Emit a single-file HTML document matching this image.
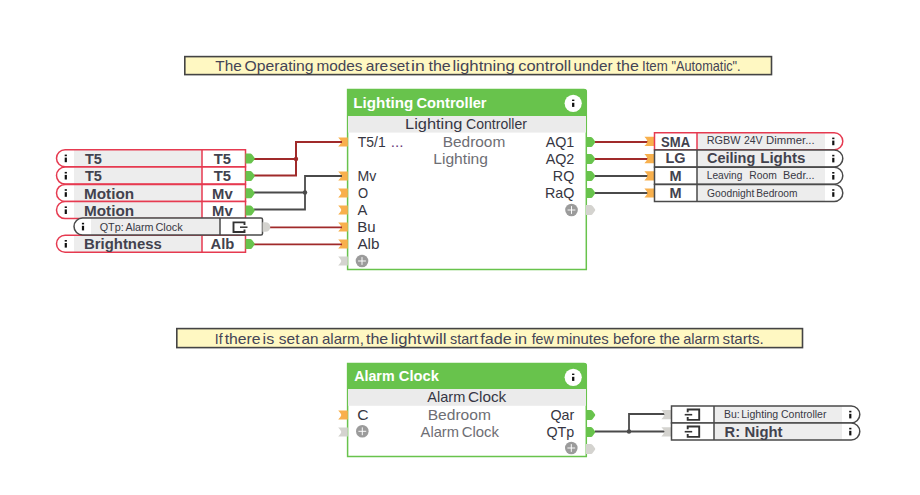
<!DOCTYPE html>
<html><head><meta charset="utf-8"><style>html,body{margin:0;padding:0;background:#fff;width:920px;height:495px;overflow:hidden}</style></head><body>
<svg width="920" height="495" viewBox="0 0 920 495" style="display:block" font-family='"Liberation Sans", sans-serif'>
<rect width="920" height="495" fill="#fff"/>
<rect x="184.8" y="56.6" width="586.7" height="18" fill="#FFF8C2" stroke="#444444" stroke-width="1.6"/>
<text x="215.34" y="70.8" font-size="14.5" font-weight="normal" text-anchor="start" fill="#444456" textLength="26.44" lengthAdjust="spacingAndGlyphs">The</text>
<text x="244.46" y="70.8" font-size="14.5" font-weight="normal" text-anchor="start" fill="#444456" textLength="69.06" lengthAdjust="spacingAndGlyphs">Operating</text>
<text x="316.44" y="70.8" font-size="14.5" font-weight="normal" text-anchor="start" fill="#444456" textLength="46.02" lengthAdjust="spacingAndGlyphs">modes</text>
<text x="365.71" y="70.8" font-size="14.5" font-weight="normal" text-anchor="start" fill="#444456" textLength="22.56" lengthAdjust="spacingAndGlyphs">are</text>
<text x="389.23" y="70.8" font-size="14.5" font-weight="normal" text-anchor="start" fill="#444456" textLength="20.27" lengthAdjust="spacingAndGlyphs">set</text>
<text x="411.04" y="70.8" font-size="14.5" font-weight="normal" text-anchor="start" fill="#444456" textLength="13.68" lengthAdjust="spacingAndGlyphs">in</text>
<text x="428.47" y="70.8" font-size="14.5" font-weight="normal" text-anchor="start" fill="#444456" textLength="22.27" lengthAdjust="spacingAndGlyphs">the</text>
<text x="452.60" y="70.8" font-size="14.5" font-weight="normal" text-anchor="start" fill="#444456" textLength="62.33" lengthAdjust="spacingAndGlyphs">lightning</text>
<text x="518.18" y="70.8" font-size="14.5" font-weight="normal" text-anchor="start" fill="#444456" textLength="52.95" lengthAdjust="spacingAndGlyphs">controll</text>
<text x="573.61" y="70.8" font-size="14.5" font-weight="normal" text-anchor="start" fill="#444456" textLength="38.99" lengthAdjust="spacingAndGlyphs">under</text>
<text x="616.62" y="70.8" font-size="14.5" font-weight="normal" text-anchor="start" fill="#444456" textLength="22.22" lengthAdjust="spacingAndGlyphs">the</text>
<text x="641.96" y="70.8" font-size="14.5" font-weight="normal" text-anchor="start" fill="#444456" textLength="25.82" lengthAdjust="spacingAndGlyphs">Item</text>
<text x="671.46" y="70.8" font-size="14.5" font-weight="normal" text-anchor="start" fill="#444456" textLength="69.18" lengthAdjust="spacingAndGlyphs">&quot;Automatic&quot;.</text>
<rect x="176.8" y="328.6" width="625.7" height="19" fill="#FFF8C2" stroke="#444444" stroke-width="1.6"/>
<text x="214.80" y="343.5" font-size="14.5" font-weight="normal" text-anchor="start" fill="#444456" textLength="7.76" lengthAdjust="spacingAndGlyphs">If</text>
<text x="224.73" y="343.5" font-size="14.5" font-weight="normal" text-anchor="start" fill="#444456" textLength="35.88" lengthAdjust="spacingAndGlyphs">there</text>
<text x="262.64" y="343.5" font-size="14.5" font-weight="normal" text-anchor="start" fill="#444456" textLength="11.65" lengthAdjust="spacingAndGlyphs">is</text>
<text x="278.87" y="343.5" font-size="14.5" font-weight="normal" text-anchor="start" fill="#444456" textLength="20.63" lengthAdjust="spacingAndGlyphs">set</text>
<text x="301.47" y="343.5" font-size="14.5" font-weight="normal" text-anchor="start" fill="#444456" textLength="16.96" lengthAdjust="spacingAndGlyphs">an</text>
<text x="321.98" y="343.5" font-size="14.5" font-weight="normal" text-anchor="start" fill="#444456" textLength="41.87" lengthAdjust="spacingAndGlyphs">alarm,</text>
<text x="365.97" y="343.5" font-size="14.5" font-weight="normal" text-anchor="start" fill="#444456" textLength="22.27" lengthAdjust="spacingAndGlyphs">the</text>
<text x="390.75" y="343.5" font-size="14.5" font-weight="normal" text-anchor="start" fill="#444456" textLength="30.63" lengthAdjust="spacingAndGlyphs">light</text>
<text x="422.75" y="343.5" font-size="14.5" font-weight="normal" text-anchor="start" fill="#444456" textLength="23.91" lengthAdjust="spacingAndGlyphs">will</text>
<text x="450.10" y="343.5" font-size="14.5" font-weight="normal" text-anchor="start" fill="#444456" textLength="27.95" lengthAdjust="spacingAndGlyphs">start</text>
<text x="480.32" y="343.5" font-size="14.5" font-weight="normal" text-anchor="start" fill="#444456" textLength="31.47" lengthAdjust="spacingAndGlyphs">fade</text>
<text x="514.48" y="343.5" font-size="14.5" font-weight="normal" text-anchor="start" fill="#444456" textLength="12.66" lengthAdjust="spacingAndGlyphs">in</text>
<text x="531.65" y="343.5" font-size="14.5" font-weight="normal" text-anchor="start" fill="#444456" textLength="22.17" lengthAdjust="spacingAndGlyphs">few</text>
<text x="556.47" y="343.5" font-size="14.5" font-weight="normal" text-anchor="start" fill="#444456" textLength="52.17" lengthAdjust="spacingAndGlyphs">minutes</text>
<text x="612.97" y="343.5" font-size="14.5" font-weight="normal" text-anchor="start" fill="#444456" textLength="42.68" lengthAdjust="spacingAndGlyphs">before</text>
<text x="659.49" y="343.5" font-size="14.5" font-weight="normal" text-anchor="start" fill="#444456" textLength="20.59" lengthAdjust="spacingAndGlyphs">the</text>
<text x="683.25" y="343.5" font-size="14.5" font-weight="normal" text-anchor="start" fill="#444456" textLength="36.27" lengthAdjust="spacingAndGlyphs">alarm</text>
<text x="722.58" y="343.5" font-size="14.5" font-weight="normal" text-anchor="start" fill="#444456" textLength="41.21" lengthAdjust="spacingAndGlyphs">starts.</text>
<path d="M347.6,89.6 H583.8 Q586.3,89.6 586.3,92.1 V269.6 H347.6 Z" fill="#fff" stroke="#68C34C" stroke-width="1.5"/>
<path d="M347,89 H584 Q586.9,89 586.9,92 V116 H347 Z" fill="#68C34C"/>
<rect x="348" y="116" width="238" height="16.599999999999994" fill="#EBEBEB"/>
<circle cx="573.2" cy="103.3" r="8.6" fill="#fff"/>
<rect x="572.05" y="99.60" width="2.3" height="1.4" fill="#111"/>
<rect x="572.05" y="102.80" width="2.3" height="4.1" fill="#111"/>
<text x="353.35" y="107.5" font-size="14.5" font-weight="bold" text-anchor="start" fill="#fff" textLength="59.86" lengthAdjust="spacingAndGlyphs">Lighting</text>
<text x="416.49" y="107.5" font-size="14.5" font-weight="bold" text-anchor="start" fill="#fff" textLength="70.09" lengthAdjust="spacingAndGlyphs">Controller</text>
<text x="405.07" y="128.9" font-size="14.5" font-weight="normal" text-anchor="start" fill="#363644" textLength="57.43" lengthAdjust="spacingAndGlyphs">Lighting</text>
<text x="466.07" y="128.9" font-size="14.5" font-weight="normal" text-anchor="start" fill="#363644" textLength="60.93" lengthAdjust="spacingAndGlyphs">Controller</text>
<path d="M338.2,137.4 H347.8 V146.6 H338.2 Q340.8,144.07 341.3,142 Q340.8,139.93 338.2,137.4 Z" fill="#F8B04D"/>
<path d="M338.2,171.4 H347.8 V180.6 H338.2 Q340.8,178.07 341.3,176 Q340.8,173.93 338.2,171.4 Z" fill="#F8B04D"/>
<path d="M338.2,188.4 H347.8 V197.6 H338.2 Q340.8,195.07 341.3,193 Q340.8,190.93 338.2,188.4 Z" fill="#F8B04D"/>
<path d="M338.2,205.4 H347.8 V214.6 H338.2 Q340.8,212.07 341.3,210 Q340.8,207.93 338.2,205.4 Z" fill="#F8B04D"/>
<path d="M338.2,222.4 H347.8 V231.6 H338.2 Q340.8,229.07 341.3,227 Q340.8,224.93 338.2,222.4 Z" fill="#F8B04D"/>
<path d="M338.2,239.4 H347.8 V248.6 H338.2 Q340.8,246.07 341.3,244 Q340.8,241.93 338.2,239.4 Z" fill="#F8B04D"/>
<path d="M338.2,256.4 H347.8 V265.6 H338.2 Q340.8,263.07 341.3,261 Q340.8,258.93 338.2,256.4 Z" fill="#D4D3CF"/>
<circle cx="362" cy="261" r="6.3" fill="#9B9B9B"/>
<path d="M358.1,261 H365.9 M362,257.1 V264.9" stroke="#fff" stroke-width="0.95"/>
<text x="357.86" y="146.7" font-size="14.5" font-weight="normal" text-anchor="start" fill="#363642" textLength="27.88" lengthAdjust="spacingAndGlyphs">T5/1</text>
<text x="390.68" y="146.7" font-size="14.5" font-weight="normal" text-anchor="start" fill="#6a3a7a" textLength="12.73" lengthAdjust="spacingAndGlyphs">...</text>
<text x="442.69" y="146.7" font-size="14.5" font-weight="normal" text-anchor="start" fill="#6E6E74" textLength="62.61" lengthAdjust="spacingAndGlyphs">Bedroom</text>
<text x="433.32" y="163.7" font-size="14.5" font-weight="normal" text-anchor="start" fill="#6E6E74" textLength="54.63" lengthAdjust="spacingAndGlyphs">Lighting</text>
<text x="357.53" y="180.7" font-size="14.5" font-weight="normal" text-anchor="start" fill="#363642" textLength="18.81" lengthAdjust="spacingAndGlyphs">Mv</text>
<text x="357.95" y="197.7" font-size="14.5" font-weight="normal" text-anchor="start" fill="#363642" textLength="10.13" lengthAdjust="spacingAndGlyphs">O</text>
<text x="357.40" y="214.7" font-size="14.5" font-weight="normal" text-anchor="start" fill="#363642" textLength="9.82" lengthAdjust="spacingAndGlyphs">A</text>
<text x="357.37" y="231.7" font-size="14.5" font-weight="normal" text-anchor="start" fill="#363642" textLength="18.37" lengthAdjust="spacingAndGlyphs">Bu</text>
<text x="357.40" y="248.7" font-size="14.5" font-weight="normal" text-anchor="start" fill="#363642" textLength="22.09" lengthAdjust="spacingAndGlyphs">Alb</text>
<path d="M586,137 H591 Q592,137 593,138.5 L595,141.2 Q595.5,142 595,142.8 L593,145.5 Q592,147 591,147 H586 Z" fill="#68C34C"/>
<text x="574.30" y="147.1" font-size="14.3" font-weight="normal" text-anchor="end" fill="#363642">AQ1</text>
<path d="M586,154 H591 Q592,154 593,155.5 L595,158.2 Q595.5,159 595,159.8 L593,162.5 Q592,164 591,164 H586 Z" fill="#68C34C"/>
<text x="574.30" y="164.1" font-size="14.3" font-weight="normal" text-anchor="end" fill="#363642">AQ2</text>
<path d="M586,171 H591 Q592,171 593,172.5 L595,175.2 Q595.5,176 595,176.8 L593,179.5 Q592,181 591,181 H586 Z" fill="#68C34C"/>
<text x="574.30" y="181.1" font-size="14.3" font-weight="normal" text-anchor="end" fill="#363642">RQ</text>
<path d="M586,188 H591 Q592,188 593,189.5 L595,192.2 Q595.5,193 595,193.8 L593,196.5 Q592,198 591,198 H586 Z" fill="#68C34C"/>
<text x="574.30" y="198.1" font-size="14.3" font-weight="normal" text-anchor="end" fill="#363642">RaQ</text>
<path d="M586,205 H591 Q592,205 593,206.5 L595,209.2 Q595.5,210 595,210.8 L593,213.5 Q592,215 591,215 H586 Z" fill="#D4D3CF"/>
<circle cx="571.5" cy="210" r="6.3" fill="#9B9B9B"/>
<path d="M567.6,210 H575.4 M571.5,206.1 V213.9" stroke="#fff" stroke-width="0.95"/>
<path d="M347.6,363.6 H583.8 Q586.3,363.6 586.3,366.1 V456.6 H347.6 Z" fill="#fff" stroke="#68C34C" stroke-width="1.5"/>
<path d="M347,363 H584 Q586.9,363 586.9,366 V389 H347 Z" fill="#68C34C"/>
<rect x="348" y="389" width="238" height="16.80000000000001" fill="#EBEBEB"/>
<circle cx="573.2" cy="377.3" r="8.6" fill="#fff"/>
<rect x="572.05" y="373.60" width="2.3" height="1.4" fill="#111"/>
<rect x="572.05" y="376.80" width="2.3" height="4.1" fill="#111"/>
<text x="354.15" y="381" font-size="14.5" font-weight="bold" text-anchor="start" fill="#fff" textLength="40.44" lengthAdjust="spacingAndGlyphs">Alarm</text>
<text x="398.89" y="381" font-size="14.5" font-weight="bold" text-anchor="start" fill="#fff" textLength="40.11" lengthAdjust="spacingAndGlyphs">Clock</text>
<text x="427.25" y="402.2" font-size="14.5" font-weight="normal" text-anchor="start" fill="#363644" textLength="38.03" lengthAdjust="spacingAndGlyphs">Alarm</text>
<text x="467.96" y="402.2" font-size="14.5" font-weight="normal" text-anchor="start" fill="#363644" textLength="38.31" lengthAdjust="spacingAndGlyphs">Clock</text>
<path d="M338.2,410.4 H347.8 V419.6 H338.2 Q340.8,417.07 341.3,415 Q340.8,412.93 338.2,410.4 Z" fill="#F8B04D"/>
<text x="357.19" y="420.2" font-size="14.5" font-weight="normal" text-anchor="start" fill="#363642" textLength="11.33" lengthAdjust="spacingAndGlyphs">C</text>
<path d="M338.2,427.4 H347.8 V436.6 H338.2 Q340.8,434.07 341.3,432 Q340.8,429.93 338.2,427.4 Z" fill="#D4D3CF"/>
<circle cx="362.3" cy="431.3" r="6.3" fill="#9B9B9B"/>
<path d="M358.40000000000003,431.3 H366.2 M362.3,427.40000000000003 V435.2" stroke="#fff" stroke-width="0.95"/>
<text x="427.68" y="419.9" font-size="14.5" font-weight="normal" text-anchor="start" fill="#6E6E74" textLength="63.23" lengthAdjust="spacingAndGlyphs">Bedroom</text>
<text x="420.60" y="436.9" font-size="14.5" font-weight="normal" text-anchor="start" fill="#6E6E74" textLength="38.39" lengthAdjust="spacingAndGlyphs">Alarm</text>
<text x="461.73" y="436.9" font-size="14.5" font-weight="normal" text-anchor="start" fill="#6E6E74" textLength="37.29" lengthAdjust="spacingAndGlyphs">Clock</text>
<path d="M586,410 H591 Q592,410 593,411.5 L595,414.2 Q595.5,415 595,415.8 L593,418.5 Q592,420 591,420 H586 Z" fill="#68C34C"/>
<text x="574.30" y="420.1" font-size="14.3" font-weight="normal" text-anchor="end" fill="#363642">Qar</text>
<path d="M586,427 H591 Q592,427 593,428.5 L595,431.2 Q595.5,432 595,432.8 L593,435.5 Q592,437 591,437 H586 Z" fill="#68C34C"/>
<text x="574.30" y="437.1" font-size="14.3" font-weight="normal" text-anchor="end" fill="#363642">QTp</text>
<path d="M586,444 H591 Q592,444 593,445.5 L595,448.2 Q595.5,449 595,449.8 L593,452.5 Q592,454 591,454 H586 Z" fill="#D4D3CF"/>
<circle cx="571.3" cy="448" r="6.3" fill="#9B9B9B"/>
<path d="M567.4,448 H575.1999999999999 M571.3,444.1 V451.9" stroke="#fff" stroke-width="0.95"/>
<path d="M254,159 H296 M254,175.5 H296 V142 H342" fill="none" stroke="#A02A2A" stroke-width="2"/>
<circle cx="296" cy="159" r="2.2" fill="#A02A2A"/>
<path d="M254,192.5 H305 M254,209.5 H305 V176 H342" fill="none" stroke="#4a4a4a" stroke-width="1.8"/>
<circle cx="305" cy="192.5" r="2.2" fill="#4a4a4a"/>
<path d="M270,227.3 H342" fill="none" stroke="#A02A2A" stroke-width="1.7"/>
<path d="M254,244.3 H342" fill="none" stroke="#A02A2A" stroke-width="1.8"/>
<path d="M595,142 H648 M595,159 H648" fill="none" stroke="#A02A2A" stroke-width="2"/>
<path d="M595,176 H648 M595,193 H648" fill="none" stroke="#4a4a4a" stroke-width="1.8"/>
<path d="M595,431.5 H666 M629,431.5 V414 H666" fill="none" stroke="#4a4a4a" stroke-width="1.8"/>
<circle cx="629" cy="431.5" r="2.2" fill="#4a4a4a"/>
<path d="M245.5,149.8 H65.1 A8.6,8.5 0 0 0 65.1,166.8 H245.5 Z" fill="#fff"/>
<rect x="74" y="149.8" width="128" height="17" fill="#EDEDED"/>
<path d="M245.5,149.8 H65.1 A8.6,8.5 0 0 0 65.1,166.8 H245.5 Z M202,149.8 V166.8" fill="none" stroke="#E63A50" stroke-width="1.5"/>
<rect x="64.70" y="154.60" width="2.2" height="1.6" fill="#111"/>
<rect x="64.70" y="157.60" width="2.2" height="4.6" fill="#111"/>
<text x="85.00" y="164.0" font-size="15" font-weight="bold" text-anchor="start" fill="#42424e" textLength="16.96" lengthAdjust="spacingAndGlyphs">T5</text>
<text x="222.40" y="164.0" font-size="14.8" font-weight="bold" text-anchor="middle" fill="#42424e">T5</text>
<path d="M245.5,153.60000000000002 H250.5 Q251.5,153.60000000000002 252.5,155.10000000000002 L254.5,157.8 Q255.0,158.60000000000002 254.5,159.40000000000003 L252.5,162.10000000000002 Q251.5,163.60000000000002 250.5,163.60000000000002 H245.5 Z" fill="#68C34C"/>
<path d="M245.5,167.1 H65.1 A8.6,8.5 0 0 0 65.1,184.1 H245.5 Z" fill="#fff"/>
<rect x="74" y="167.1" width="128" height="17" fill="#EDEDED"/>
<path d="M245.5,167.1 H65.1 A8.6,8.5 0 0 0 65.1,184.1 H245.5 Z M202,167.1 V184.1" fill="none" stroke="#E63A50" stroke-width="1.5"/>
<rect x="64.70" y="171.90" width="2.2" height="1.6" fill="#111"/>
<rect x="64.70" y="174.90" width="2.2" height="4.6" fill="#111"/>
<text x="85.00" y="181.29999999999998" font-size="15" font-weight="bold" text-anchor="start" fill="#42424e" textLength="16.96" lengthAdjust="spacingAndGlyphs">T5</text>
<text x="222.40" y="181.29999999999998" font-size="14.8" font-weight="bold" text-anchor="middle" fill="#42424e">T5</text>
<path d="M245.5,170.9 H250.5 Q251.5,170.9 252.5,172.4 L254.5,175.1 Q255.0,175.9 254.5,176.70000000000002 L252.5,179.4 Q251.5,180.9 250.5,180.9 H245.5 Z" fill="#68C34C"/>
<path d="M245.5,184.4 H65.1 A8.6,8.5 0 0 0 65.1,201.4 H245.5 Z" fill="#fff"/>
<rect x="74" y="184.4" width="128" height="17" fill="#EDEDED"/>
<path d="M245.5,184.4 H65.1 A8.6,8.5 0 0 0 65.1,201.4 H245.5 Z M202,184.4 V201.4" fill="none" stroke="#E63A50" stroke-width="1.5"/>
<rect x="64.70" y="189.20" width="2.2" height="1.6" fill="#111"/>
<rect x="64.70" y="192.20" width="2.2" height="4.6" fill="#111"/>
<text x="83.98" y="198.6" font-size="15" font-weight="bold" text-anchor="start" fill="#42424e" textLength="50.14" lengthAdjust="spacingAndGlyphs">Motion</text>
<text x="222.40" y="198.6" font-size="14.8" font-weight="bold" text-anchor="middle" fill="#42424e">Mv</text>
<path d="M245.5,188.20000000000002 H250.5 Q251.5,188.20000000000002 252.5,189.70000000000002 L254.5,192.4 Q255.0,193.20000000000002 254.5,194.00000000000003 L252.5,196.70000000000002 Q251.5,198.20000000000002 250.5,198.20000000000002 H245.5 Z" fill="#68C34C"/>
<path d="M245.5,201.6 H65.1 A8.6,8.5 0 0 0 65.1,218.6 H245.5 Z" fill="#fff"/>
<rect x="74" y="201.6" width="128" height="17" fill="#EDEDED"/>
<path d="M245.5,201.6 H65.1 A8.6,8.5 0 0 0 65.1,218.6 H245.5 Z M202,201.6 V218.6" fill="none" stroke="#E63A50" stroke-width="1.5"/>
<rect x="64.70" y="206.40" width="2.2" height="1.6" fill="#111"/>
<rect x="64.70" y="209.40" width="2.2" height="4.6" fill="#111"/>
<text x="83.98" y="215.79999999999998" font-size="15" font-weight="bold" text-anchor="start" fill="#42424e" textLength="50.14" lengthAdjust="spacingAndGlyphs">Motion</text>
<text x="222.40" y="215.79999999999998" font-size="14.8" font-weight="bold" text-anchor="middle" fill="#42424e">Mv</text>
<path d="M245.5,205.4 H250.5 Q251.5,205.4 252.5,206.9 L254.5,209.6 Q255.0,210.4 254.5,211.20000000000002 L252.5,213.9 Q251.5,215.4 250.5,215.4 H245.5 Z" fill="#68C34C"/>
<path d="M245.5,235.2 H65.1 A8.6,8.5 0 0 0 65.1,252.2 H245.5 Z" fill="#fff"/>
<rect x="74" y="235.2" width="128" height="17" fill="#EDEDED"/>
<path d="M245.5,235.2 H65.1 A8.6,8.5 0 0 0 65.1,252.2 H245.5 Z M202,235.2 V252.2" fill="none" stroke="#E63A50" stroke-width="1.5"/>
<rect x="64.70" y="240.00" width="2.2" height="1.6" fill="#111"/>
<rect x="64.70" y="243.00" width="2.2" height="4.6" fill="#111"/>
<text x="84.01" y="249.39999999999998" font-size="15" font-weight="bold" text-anchor="start" fill="#42424e" textLength="77.80" lengthAdjust="spacingAndGlyphs">Brightness</text>
<text x="222.40" y="249.39999999999998" font-size="14.8" font-weight="bold" text-anchor="middle" fill="#42424e">Alb</text>
<path d="M245.5,239.0 H250.5 Q251.5,239.0 252.5,240.5 L254.5,243.2 Q255.0,244.0 254.5,244.8 L252.5,247.5 Q251.5,249.0 250.5,249.0 H245.5 Z" fill="#68C34C"/>
<path d="M262.5,218 H82.6 A8.6,8.5 0 0 0 82.6,235 H262.5 Z" fill="#fff"/>
<rect x="91" y="218" width="129" height="17" fill="#EDEDED"/>
<path d="M261.0,218 Q262.5,218 262.5,219.5 V233.5 Q262.5,235 261.0,235 H82.6 A8.6,8.5 0 0 1 82.6,218 Z M220,218 V235" fill="none" stroke="#4a4a4a" stroke-width="1.5"/>
<rect x="81.90" y="222.80" width="2.2" height="1.6" fill="#111"/>
<rect x="81.90" y="225.80" width="2.2" height="4.6" fill="#111"/>
<text x="99.66" y="231.1" font-size="10" font-weight="normal" text-anchor="start" fill="#383844" textLength="24.03" lengthAdjust="spacingAndGlyphs">QTp:</text>
<text x="125.50" y="231.1" font-size="10" font-weight="normal" text-anchor="start" fill="#383844" textLength="28.07" lengthAdjust="spacingAndGlyphs">Alarm</text>
<text x="155.45" y="231.1" font-size="10" font-weight="normal" text-anchor="start" fill="#383844" textLength="27.36" lengthAdjust="spacingAndGlyphs">Clock</text>
<path d="M244.5,224.89999999999998 V222.39999999999998 H233.5 V232.0 H244.5 V229.5" fill="none" stroke="#333" stroke-width="1.9"/>
<path d="M240,227.2 H247.5" fill="none" stroke="#333" stroke-width="1.5"/>
<path d="M262.5,222.2 H265.5 A4.8,4.8 0 0 1 265.5,231.8 H262.5 Z" fill="#D4D3CF"/>
<path d="M644.4,136.8 H654 V146.0 H644.4 Q647.0,143.47 647.5,141.4 Q647.0,139.33 644.4,136.8 Z" fill="#F8B04D"/>
<path d="M644.4,154.0 H654 V163.2 H644.4 Q647.0,160.67 647.5,158.6 Q647.0,156.53 644.4,154.0 Z" fill="#F8B04D"/>
<path d="M644.4,171.20000000000002 H654 V180.4 H644.4 Q647.0,177.87 647.5,175.8 Q647.0,173.73000000000002 644.4,171.20000000000002 Z" fill="#F8B04D"/>
<path d="M644.4,188.4 H654 V197.6 H644.4 Q647.0,195.07 647.5,193.0 Q647.0,190.93 644.4,188.4 Z" fill="#F8B04D"/>
<path d="M654.5,132.8 H834.1999999999999 A8.6,8.5 0 0 1 834.1999999999999,149.8 H654.5 Z" fill="#fff"/>
<rect x="697" y="132.8" width="128" height="17" fill="#EDEDED"/>
<path d="M654.5,132.8 H834.1999999999999 A8.6,8.5 0 0 1 834.1999999999999,149.8 H654.5 Z M697,132.8 V149.8" fill="none" stroke="#E63A50" stroke-width="1.5"/>
<rect x="832.20" y="137.60" width="2.2" height="1.6" fill="#111"/>
<rect x="832.20" y="140.60" width="2.2" height="4.6" fill="#111"/>
<path d="M654.5,150.0 H834.1999999999999 A8.6,8.5 0 0 1 834.1999999999999,167.0 H654.5 Z" fill="#fff"/>
<rect x="697" y="150.0" width="128" height="17" fill="#EDEDED"/>
<path d="M654.5,150.0 H834.1999999999999 A8.6,8.5 0 0 1 834.1999999999999,167.0 H654.5 Z M697,150.0 V167.0" fill="none" stroke="#4a4a4a" stroke-width="1.5"/>
<rect x="832.20" y="154.80" width="2.2" height="1.6" fill="#111"/>
<rect x="832.20" y="157.80" width="2.2" height="4.6" fill="#111"/>
<path d="M654.5,167.20000000000002 H834.1999999999999 A8.6,8.5 0 0 1 834.1999999999999,184.20000000000002 H654.5 Z" fill="#fff"/>
<rect x="697" y="167.20000000000002" width="128" height="17" fill="#EDEDED"/>
<path d="M654.5,167.20000000000002 H834.1999999999999 A8.6,8.5 0 0 1 834.1999999999999,184.20000000000002 H654.5 Z M697,167.20000000000002 V184.20000000000002" fill="none" stroke="#4a4a4a" stroke-width="1.5"/>
<rect x="832.20" y="172.00" width="2.2" height="1.6" fill="#111"/>
<rect x="832.20" y="175.00" width="2.2" height="4.6" fill="#111"/>
<path d="M654.5,184.4 H834.1999999999999 A8.6,8.5 0 0 1 834.1999999999999,201.4 H654.5 Z" fill="#fff"/>
<rect x="697" y="184.4" width="128" height="17" fill="#EDEDED"/>
<path d="M654.5,184.4 H834.1999999999999 A8.6,8.5 0 0 1 834.1999999999999,201.4 H654.5 Z M697,184.4 V201.4" fill="none" stroke="#4a4a4a" stroke-width="1.5"/>
<rect x="832.20" y="189.20" width="2.2" height="1.6" fill="#111"/>
<rect x="832.20" y="192.20" width="2.2" height="4.6" fill="#111"/>
<text x="675.60" y="147.4" font-size="14.5" font-weight="bold" text-anchor="middle" fill="#42424e" textLength="29.00" lengthAdjust="spacingAndGlyphs">SMA</text>
<text x="675.60" y="163.4" font-size="14.5" font-weight="bold" text-anchor="middle" fill="#42424e">LG</text>
<text x="675.60" y="180.8" font-size="14.5" font-weight="bold" text-anchor="middle" fill="#42424e">M</text>
<text x="675.60" y="198.0" font-size="14.5" font-weight="bold" text-anchor="middle" fill="#42424e">M</text>
<text x="706.76" y="143.6" font-size="11" font-weight="normal" text-anchor="start" fill="#383844" textLength="33.83" lengthAdjust="spacingAndGlyphs">RGBW</text>
<text x="743.92" y="143.6" font-size="11" font-weight="normal" text-anchor="start" fill="#383844" textLength="18.65" lengthAdjust="spacingAndGlyphs">24V</text>
<text x="766.13" y="143.6" font-size="11" font-weight="normal" text-anchor="start" fill="#383844" textLength="48.46" lengthAdjust="spacingAndGlyphs">Dimmer...</text>
<text x="707.00" y="163.2" font-size="14.5" font-weight="bold" text-anchor="start" fill="#42424e" textLength="48.24" lengthAdjust="spacingAndGlyphs">Ceiling</text>
<text x="760.21" y="163.2" font-size="14.5" font-weight="bold" text-anchor="start" fill="#42424e" textLength="45.31" lengthAdjust="spacingAndGlyphs">Lights</text>
<text x="706.81" y="178.5" font-size="11" font-weight="normal" text-anchor="start" fill="#383844" textLength="35.60" lengthAdjust="spacingAndGlyphs">Leaving</text>
<text x="749.30" y="178.5" font-size="11" font-weight="normal" text-anchor="start" fill="#383844" textLength="27.51" lengthAdjust="spacingAndGlyphs">Room</text>
<text x="783.01" y="178.5" font-size="11" font-weight="normal" text-anchor="start" fill="#383844" textLength="31.53" lengthAdjust="spacingAndGlyphs">Bedr...</text>
<text x="707.03" y="196.9" font-size="11" font-weight="normal" text-anchor="start" fill="#383844" textLength="47.38" lengthAdjust="spacingAndGlyphs">Goodnight</text>
<text x="756.21" y="196.9" font-size="11" font-weight="normal" text-anchor="start" fill="#383844" textLength="41.29" lengthAdjust="spacingAndGlyphs">Bedroom</text>
<path d="M661.4,410.0 H671 V419.20000000000005 H661.4 Q664.0,416.67 664.5,414.6 Q664.0,412.53000000000003 661.4,410.0 Z" fill="#D4D3CF"/>
<path d="M661.4,427.2 H671 V436.40000000000003 H661.4 Q664.0,433.87 664.5,431.8 Q664.0,429.73 661.4,427.2 Z" fill="#D4D3CF"/>
<path d="M671.5,406 H851.1999999999999 A8.6,8.5 0 0 1 851.1999999999999,423 H671.5 Z" fill="#fff"/>
<rect x="714" y="406" width="128" height="17" fill="#EDEDED"/>
<path d="M671.5,406 H851.1999999999999 A8.6,8.5 0 0 1 851.1999999999999,423 H671.5 Z M714,406 V423" fill="none" stroke="#4a4a4a" stroke-width="1.5"/>
<rect x="849.20" y="410.80" width="2.2" height="1.6" fill="#111"/>
<rect x="849.20" y="413.80" width="2.2" height="4.6" fill="#111"/>
<path d="M687.7,412.3 V409.5 H699.2 V419.9 H687.7 V417.09999999999997" fill="none" stroke="#333" stroke-width="1.9"/>
<path d="M684.7,414.7 H692.2" fill="none" stroke="#333" stroke-width="1.6"/>
<path d="M671.5,423 H851.1999999999999 A8.6,8.5 0 0 1 851.1999999999999,440 H671.5 Z" fill="#fff"/>
<rect x="714" y="423" width="128" height="17" fill="#EDEDED"/>
<path d="M671.5,423 H851.1999999999999 A8.6,8.5 0 0 1 851.1999999999999,440 H671.5 Z M714,423 V440" fill="none" stroke="#4a4a4a" stroke-width="1.5"/>
<rect x="849.20" y="427.80" width="2.2" height="1.6" fill="#111"/>
<rect x="849.20" y="430.80" width="2.2" height="4.6" fill="#111"/>
<path d="M687.7,429.3 V426.5 H699.2 V436.9 H687.7 V434.09999999999997" fill="none" stroke="#333" stroke-width="1.9"/>
<path d="M684.7,431.7 H692.2" fill="none" stroke="#333" stroke-width="1.6"/>
<text x="724.04" y="418.4" font-size="11" font-weight="normal" text-anchor="start" fill="#383844" textLength="15.68" lengthAdjust="spacingAndGlyphs">Bu:</text>
<text x="741.18" y="418.4" font-size="11" font-weight="normal" text-anchor="start" fill="#383844" textLength="37.10" lengthAdjust="spacingAndGlyphs">Lighting</text>
<text x="781.02" y="418.4" font-size="11" font-weight="normal" text-anchor="start" fill="#383844" textLength="45.40" lengthAdjust="spacingAndGlyphs">Controller</text>
<text x="724.59" y="436.5" font-size="14.5" font-weight="bold" text-anchor="start" fill="#42424e" textLength="15.49" lengthAdjust="spacingAndGlyphs">R:</text>
<text x="744.58" y="436.5" font-size="14.5" font-weight="bold" text-anchor="start" fill="#42424e" textLength="37.97" lengthAdjust="spacingAndGlyphs">Night</text>
</svg>
</body></html>
